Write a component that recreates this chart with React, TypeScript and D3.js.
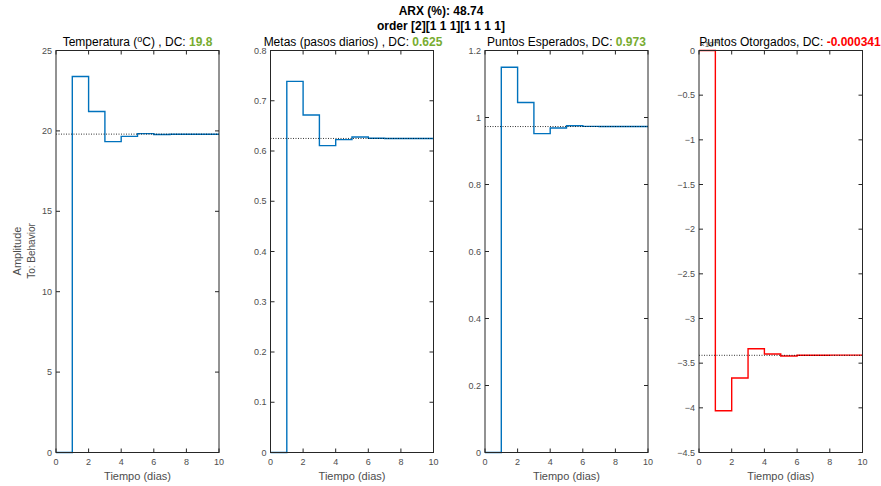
import React from "react";
import * as d3 from "d3";

const times = [0, 1, 2, 3, 4, 5, 6, 7, 8, 9, 10];
const xTicks = [0, 2, 4, 6, 8, 10];

const tempValues = [0, 23.38, 21.21, 19.33, 19.66, 19.83, 19.78, 19.79, 19.79, 19.79, 19.79];
const metasValues = [0, 0.7386, 0.6716, 0.6107, 0.6226, 0.6279, 0.6255, 0.625, 0.625, 0.625, 0.625];
const esperadosValues = [0, 1.15, 1.045, 0.952, 0.9685, 0.9755, 0.9735, 0.973, 0.973, 0.973, 0.973];
const otorgadosValues = [0, -4.032, -3.666, -3.338, -3.397, -3.42, -3.412, -3.411, -3.41, -3.41, -3.41];

const tempTicks = [0, 5, 10, 15, 20, 25];
const metasTicks = [0, 0.1, 0.2, 0.3, 0.4, 0.5, 0.6, 0.7, 0.8];
const esperadosTicks = [0, 0.2, 0.4, 0.6, 0.8, 1, 1.2];
const otorgadosTicks = [0, -0.5, -1, -1.5, -2, -2.5, -3, -3.5, -4, -4.5];

const panels = [
  { name: "temp", label: "Temperatura (", dc: 19.8, dcText: "19.8", values: tempValues, ticks: tempTicks, domain: [0, 25], color: "#0072BD", dcColor: "#77AC30", x0: 56, x1: 219, titleX: 137.5 },
  { name: "metas", label: "Metas (pasos diarios) , DC: ", dc: 0.625, dcText: "0.625", values: metasValues, ticks: metasTicks, domain: [0, 0.8], color: "#0072BD", dcColor: "#77AC30", x0: 270.5, x1: 433.5, titleX: 353 },
  { name: "esp", label: "Puntos Esperados, DC: ", dc: 0.973, dcText: "0.973", values: esperadosValues, ticks: esperadosTicks, domain: [0, 1.2], color: "#0072BD", dcColor: "#77AC30", x0: 485, x1: 648, titleX: 566.5 },
  { name: "oto", label: "Puntos Otorgados, DC: ", dc: -3.412, dcText: "-0.000341", values: otorgadosValues, ticks: otorgadosTicks, domain: [-4.5, 0], color: "#FF0000", dcColor: "#FF0000", x0: 699, x1: 862.5, titleX: 790 },
];

const Y0 = 452.5;
const Y1 = 50.5;
const AX = "#262626";
const TICKC = "#4d4d4d";
const FONT = "'Liberation Sans', Arial, Helvetica, sans-serif";

function fmt(v: number) {
  return d3.format("~g")(+v.toFixed(4));
}

function Panel({ p }: { p: typeof panels[number] }) {
  const x = d3.scaleLinear().domain([0, 10]).range([p.x0, p.x1]);
  const y = d3.scaleLinear().domain(p.domain).range([Y0, Y1]);
  const line = d3
    .line<number>()
    .x((_, i) => x(times[i]))
    .y((d) => y(d))
    .curve(d3.curveStepAfter);
  const tl = 4;
  return (
    <g>
      <path d={line(p.values) || ""} fill="none" stroke={p.color} strokeWidth={1.4} />
      <line x1={x(0)} x2={x(10)} y1={y(p.dc)} y2={y(p.dc)} stroke="#000" strokeWidth={0.8} strokeDasharray="1,1.5" />
      <rect x={p.x0} y={Y1} width={p.x1 - p.x0} height={Y0 - Y1} fill="none" stroke={AX} strokeWidth={1} />
      {p.ticks.map((t) => (
        <g key={"y" + t}>
          <line x1={p.x0} x2={p.x0 + tl} y1={y(t)} y2={y(t)} stroke={AX} />
          <line x1={p.x1} x2={p.x1 - tl} y1={y(t)} y2={y(t)} stroke={AX} />
          <text x={p.x0 - 4} y={y(t) + 3} textAnchor="end" fontSize={9} fill={TICKC} fontFamily={FONT}>
            {fmt(t)}
          </text>
        </g>
      ))}
      {xTicks.map((t) => (
        <g key={"x" + t}>
          <line x1={x(t)} x2={x(t)} y1={Y0} y2={Y0 - tl} stroke={AX} />
          <line x1={x(t)} x2={x(t)} y1={Y1} y2={Y1 + tl} stroke={AX} />
          <text x={x(t)} y={Y0 + 12.5} textAnchor="middle" fontSize={9} fill={TICKC} fontFamily={FONT}>
            {t}
          </text>
        </g>
      ))}
      <text x={(p.x0 + p.x1) / 2} y={480} textAnchor="middle" fontSize={11} fill={TICKC} fontFamily={FONT}>
        Tiempo (dias)
      </text>
      {p.name === "oto" && (
        <text x={p.x0 + 1} y={47} fontSize={8} fill={TICKC} fontFamily={FONT}>
          ×10<tspan dy={-3} fontSize={6}>-4</tspan>
        </text>
      )}
      {p.name === "temp" ? (
        <text x={p.titleX} y={45.5} textAnchor="middle" fontSize={12} fill="#000" fontFamily={FONT}>
          Temperatura (<tspan dy={-4} fontSize={9}>o</tspan>
          <tspan dy={4}>C) , DC: </tspan>
          <tspan fill={p.dcColor} fontWeight="bold">{p.dcText}</tspan>
        </text>
      ) : (
        <text x={p.titleX} y={45.5} textAnchor="middle" fontSize={12} fill="#000" fontFamily={FONT}>
          {p.label}
          <tspan fill={p.dcColor} fontWeight="bold">{p.dcText}</tspan>
        </text>
      )}
    </g>
  );
}

export default function App() {
  return (
    <svg width={881} height={486} style={{ position: "absolute", left: 0, top: 0, background: "#fff" }}>
      <rect width={881} height={486} fill="#fff" />
      <text x={441} y={15} textAnchor="middle" fontSize={12} fontWeight="bold" fontFamily={FONT}>
        ARX (%): 48.74
      </text>
      <text x={441} y={30} textAnchor="middle" fontSize={12} fontWeight="bold" fontFamily={FONT}>
        order [2][1 1 1][1 1 1 1]
      </text>
      <text transform="translate(21,251) rotate(-90)" textAnchor="middle" fontSize={11} fill={TICKC} fontFamily={FONT}>
        Amplitude
      </text>
      <text transform="translate(35,251) rotate(-90)" textAnchor="middle" fontSize={10} fill={TICKC} fontFamily={FONT}>
        To: Behavior
      </text>
      {panels.map((p) => (
        <Panel key={p.name} p={p} />
      ))}
    </svg>
  );
}
